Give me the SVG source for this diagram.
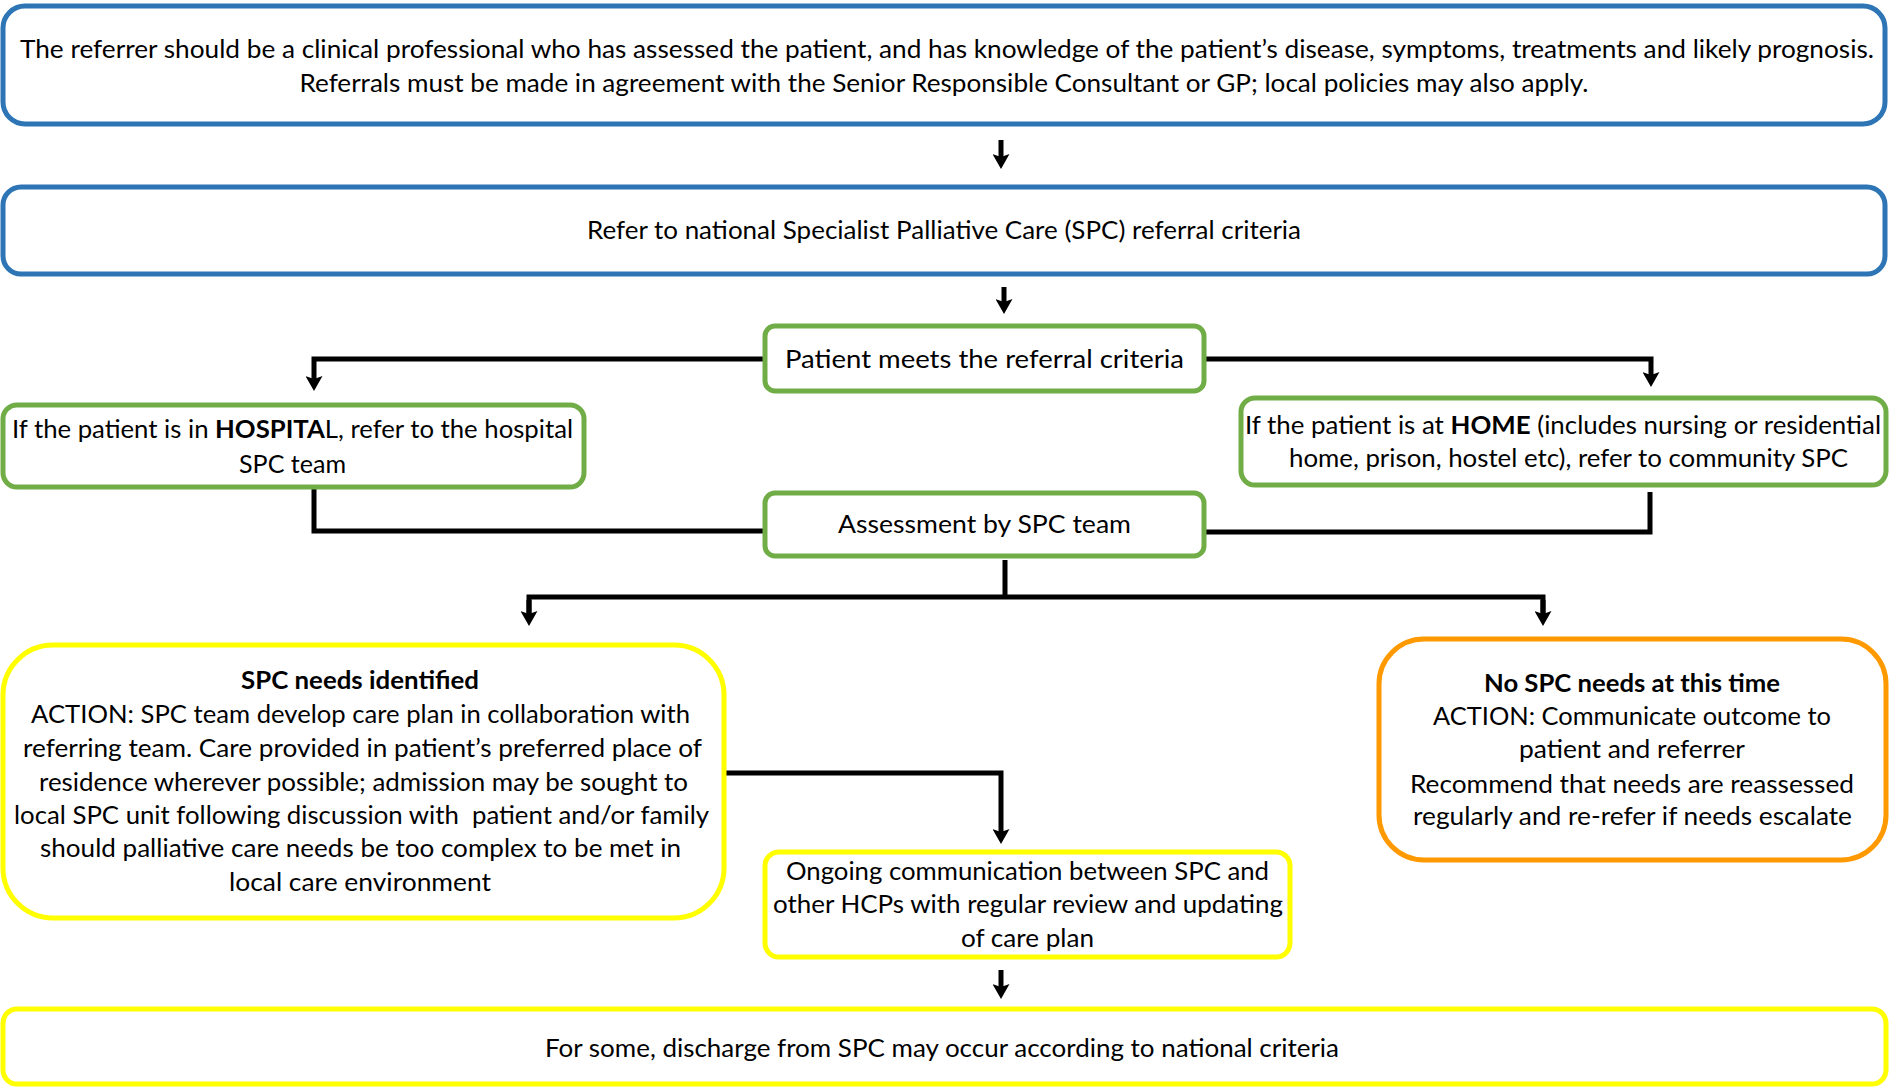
<svg xmlns="http://www.w3.org/2000/svg" width="1890" height="1088" viewBox="0 0 1890 1088">
<defs>
<style>
.t{font-family:Lato,"Open Sans",sans-serif;font-size:25.5px;fill:#000;text-anchor:middle}
.b{font-weight:bold}
.blue{fill:#fff;stroke:#2E75B6;stroke-width:5}
.green{fill:#fff;stroke:#70AD47;stroke-width:5}
.yellow{fill:#fff;stroke:#FFFF00;stroke-width:5}
.orange{fill:#fff;stroke:#FF9900;stroke-width:5}
.c{fill:none;stroke:#000;stroke-width:5}
</style>
<marker id="ah" markerWidth="16" markerHeight="17" refX="4" refY="8.5" orient="auto" markerUnits="userSpaceOnUse">
<path d="M0,0 L15,8.5 L0,17 L3,8.5 Z" fill="#000"/>
</marker>
</defs>
<rect width="1890" height="1088" fill="#fff"/>
<g id="connectors">
<path class="c" d="M1001,140 V158" marker-end="url(#ah)"/>
<path class="c" d="M1004,287 V303" marker-end="url(#ah)"/>
<path class="c" d="M764,359 H314 V380" marker-end="url(#ah)"/>
<path class="c" d="M1205,359 H1651 V376" marker-end="url(#ah)"/>
<path class="c" d="M314,489 V531 H764"/>
<path class="c" d="M1650,492 V532 H1205"/>
<path class="c" d="M1005,560 V597"/>
<path class="c" d="M529,615 V597 H1543 V615"/>
<path class="c" d="M529,600 V615" marker-end="url(#ah)"/>
<path class="c" d="M1543,600 V615" marker-end="url(#ah)"/>
<path class="c" d="M725,773 H1001 V833" marker-end="url(#ah)"/>
<path class="c" d="M1001,970 V988" marker-end="url(#ah)"/>
</g>
<g id="n1">
<rect class="blue" x="3" y="6" width="1882" height="118" rx="22"/>
<text class="t" x="947" y="58" textLength="1854" lengthAdjust="spacingAndGlyphs">The referrer should be a clinical professional who has assessed the patient, and has knowledge of the patient’s disease, symptoms, treatments and likely prognosis.</text>
<text class="t" x="944" y="92" textLength="1289" lengthAdjust="spacingAndGlyphs">Referrals must be made in agreement with the Senior Responsible Consultant or GP; local policies may also apply.</text>
</g>
<g id="n2">
<rect class="blue" x="3" y="187" width="1882" height="87" rx="18"/>
<text class="t" x="944" y="239" textLength="714" lengthAdjust="spacingAndGlyphs">Refer to national Specialist Palliative Care (SPC) referral criteria</text>
</g>
<g id="n3">
<rect class="green" x="765" y="326" width="439" height="65" rx="10"/>
<text class="t" x="984.5" y="368" textLength="399" lengthAdjust="spacingAndGlyphs">Patient meets the referral criteria</text>
</g>
<g id="n4">
<rect class="green" x="3" y="405" width="581" height="82" rx="14"/>
<text class="t" x="292.5" y="438" textLength="561" lengthAdjust="spacingAndGlyphs">If the patient is in <tspan class="b">HOSPITA</tspan>L, refer to the hospital</text>
<text class="t" x="292.5" y="473" textLength="107" lengthAdjust="spacingAndGlyphs">SPC team</text>
</g>
<g id="n5">
<rect class="green" x="1241" y="398" width="645" height="87" rx="14"/>
<text class="t" x="1563" y="434" textLength="636" lengthAdjust="spacingAndGlyphs">If the patient is at <tspan class="b">HOME</tspan> (includes nursing or residential</text>
<text class="t" x="1568.5" y="467" textLength="559" lengthAdjust="spacingAndGlyphs">home, prison, hostel etc), refer to community SPC</text>
</g>
<g id="n6">
<rect class="green" x="765" y="493" width="439" height="63" rx="10"/>
<text class="t" x="984.5" y="533" textLength="293" lengthAdjust="spacingAndGlyphs">Assessment by SPC team</text>
</g>
<g id="n7">
<rect class="yellow" x="3" y="645" width="721" height="273" rx="50"/>
<text class="t b" x="360" y="689" textLength="238" lengthAdjust="spacingAndGlyphs">SPC needs identified</text>
<text class="t" x="360.5" y="723" textLength="659" lengthAdjust="spacingAndGlyphs">ACTION: SPC team develop care plan in collaboration with</text>
<text class="t" x="362.5" y="757" textLength="679" lengthAdjust="spacingAndGlyphs">referring team. Care provided in patient’s preferred place of</text>
<text class="t" x="363.5" y="791" textLength="649" lengthAdjust="spacingAndGlyphs">residence wherever possible; admission may be sought to</text>
<text class="t" x="361.5" y="824" textLength="695" lengthAdjust="spacingAndGlyphs" xml:space="preserve">local SPC unit following discussion with  patient and/or family</text>
<text class="t" x="360.5" y="857" textLength="641" lengthAdjust="spacingAndGlyphs">should palliative care needs be too complex to be met in</text>
<text class="t" x="360" y="891" textLength="262" lengthAdjust="spacingAndGlyphs">local care environment</text>
</g>
<g id="n8">
<rect class="yellow" x="765" y="852" width="525" height="105" rx="14"/>
<text class="t" x="1027.5" y="880" textLength="483" lengthAdjust="spacingAndGlyphs">Ongoing communication between SPC and</text>
<text class="t" x="1028" y="913" textLength="510" lengthAdjust="spacingAndGlyphs">other HCPs with regular review and updating</text>
<text class="t" x="1027.5" y="947" textLength="133" lengthAdjust="spacingAndGlyphs">of care plan</text>
</g>
<g id="n9">
<rect class="orange" x="1379" y="639" width="507" height="221" rx="45"/>
<text class="t b" x="1632" y="692" textLength="296" lengthAdjust="spacingAndGlyphs">No SPC needs at this time</text>
<text class="t" x="1632" y="725" textLength="398" lengthAdjust="spacingAndGlyphs">ACTION: Communicate outcome to</text>
<text class="t" x="1632" y="758" textLength="226" lengthAdjust="spacingAndGlyphs">patient and referrer</text>
<text class="t" x="1632" y="793" textLength="444" lengthAdjust="spacingAndGlyphs">Recommend that needs are reassessed</text>
<text class="t" x="1632.5" y="825" textLength="439" lengthAdjust="spacingAndGlyphs">regularly and re-refer if needs escalate</text>
</g>
<g id="n10">
<rect class="yellow" x="3" y="1009" width="1883" height="75" rx="14"/>
<text class="t" x="942" y="1057" textLength="794" lengthAdjust="spacingAndGlyphs">For some, discharge from SPC may occur according to national criteria</text>
</g>
</svg>
